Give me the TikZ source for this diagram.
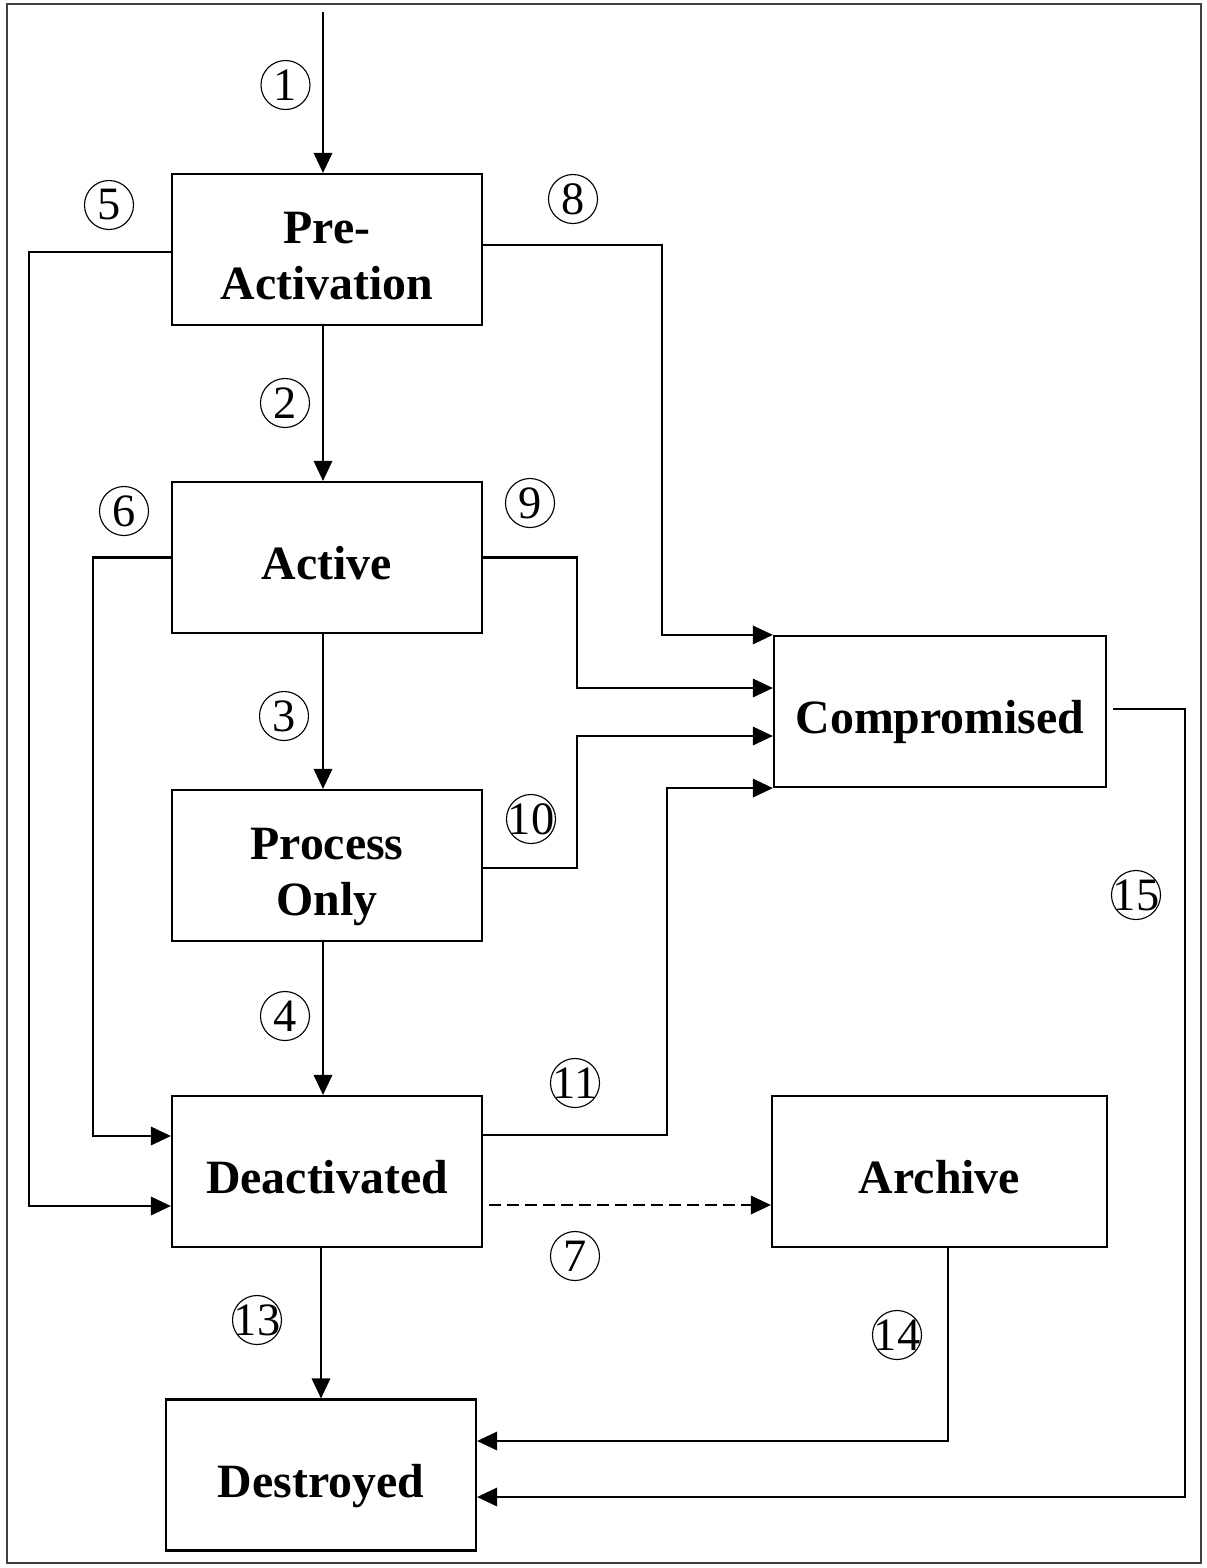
\documentclass[tikz,border=0pt]{standalone}
\usepackage{fontspec}
\setmainfont{Liberation Serif}
\usepackage{tikz}
\usetikzlibrary{calc,arrows.meta}

\newcommand{\cnum}[1]{\makebox[0pt]{#1}}
\newcommand{\topstrut}{\rule{0pt}{39.8pt}}
\newcommand{\botstrut}{\rule[-8pt]{0pt}{8pt}}

\begin{document}
\begin{tikzpicture}[
        x=0.025cm,
        y=-0.025cm,
        statebox/.style={
            rectangle,
            draw,
            line width=1.5pt,
            align=center,
            minimum width=7.75cm,
            minimum height=3.775cm,
            font=\bfseries\fontsize{34}{40}\selectfont,
            inner sep=0pt
        },
        state/.style={
            statebox,
            execute at begin node=\topstrut,
            execute at end node=\botstrut
        },
        circnum/.style={
            circle,
            draw,
            line width=0.8pt,
            minimum size=1.225cm,
            inner sep=0pt,
            font=\fontsize{33}{33}\selectfont
        },
        arrow/.style={
            -{Triangle[length=0.5cm,width=0.46cm]},
            line width=1.5pt
        },
        frame/.style={
            draw=black!75,
            line width=1.3pt
        }
    ]

        \useasboundingbox (0,0) rectangle (1207,1568);
        \draw[frame] (7,4) rectangle (1201,1563);

        % states
        \node[statebox] (pre) at (327,249.5) {\topstrut Pre-\\Activation\botstrut};
        \node[state] (act) at (327,557.5) {Active};
        \node[statebox] (proc) at (327,865.5) {\topstrut Process\\Only\botstrut};
        \node[state] (deact) at (327,1171.5) {Deactivated};
        \node[state] (destr) at (321,1475) {Destroyed};
        \node[state, minimum width=8.3cm] (comp) at (940,711.5) {Compromised};
        \node[state, minimum width=8.375cm] (arch) at (939.5,1171.5) {Archive};

        \coordinate (entry) at (323,12);

        % transitions
        \draw[arrow] (entry) -- (entry |- pre.north);
        \draw[arrow] ($(pre.south)+(-4,0)$) -- ($(act.north)+(-4,0)$);
        \draw[arrow] ($(act.south)+(-4,0)$) -- ($(proc.north)+(-4,0)$);
        \draw[arrow] ($(proc.south)+(-4,0)$) -- ($(deact.north)+(-4,0)$);

        \draw[arrow] ($(pre.west)+(0,2.5)$) -- ++(-142,0) |- ($(deact.west)+(0,34.5)$);
        \draw[arrow] (act.west) -- ++(-78,0) |- ($(deact.west)+(0,-35.5)$);
        \draw[arrow, dash pattern=on 0.3cm off 0.15cm] ($(deact.east)+(6,33.5)$) -- ($(arch.west)+(0,33.5)$);

        \draw[arrow] ($(pre.east)+(0,-4.5)$) -- ++(179,0) |- (comp.north west);
        \draw[arrow] (act.east) -- ++(94,0) |- ($(comp.west)+(0,-23.5)$);
        \draw[arrow] ($(proc.east)+(0,2.5)$) -- ++(94,0) |- ($(comp.west)+(0,24.5)$);
        \draw[arrow] ($(deact.east)+(0,-36.5)$) -- ++(184,0) |- (comp.south west);

        \draw[arrow] (destr.north |- deact.south) -- (destr.north);
        \draw[arrow] ($(arch.south)+(8.5,0)$) |- ($(destr.east)+(0,-34)$);
        \draw[arrow] ($(comp.east)+(6,-2.5)$) -- ++(72,0) |- ($(destr.east)+(0,22)$);

        % labels
        \node[circnum] (l1) at (285.5,85) {\cnum{1}};
        \node[circnum] (l2) at (285,403) {\cnum{2}};
        \node[circnum] (l3) at (284,716) {\cnum{3}};
        \node[circnum] (l4) at (285,1016) {\cnum{4}};
        \node[circnum] (l5) at (109,205) {\cnum{5}};
        \node[circnum] (l6) at (124,511) {\cnum{6}};
        \node[circnum] (l7) at (575,1256) {\cnum{7}};
        \node[circnum] (l8) at (573,199) {\cnum{8}};
        \node[circnum] (l9) at (530,503) {\cnum{9}};
        \node[circnum] (l10) at (531,819) {\cnum{10}};
        \node[circnum] (l11) at (575,1083) {\cnum{11}};
        \node[circnum] (l13) at (257,1320) {\cnum{13}};
        \node[circnum] (l14) at (897,1335) {\cnum{14}};
        \node[circnum] (l15) at (1136,895) {\cnum{15}};

    \end{tikzpicture}
\end{document}
